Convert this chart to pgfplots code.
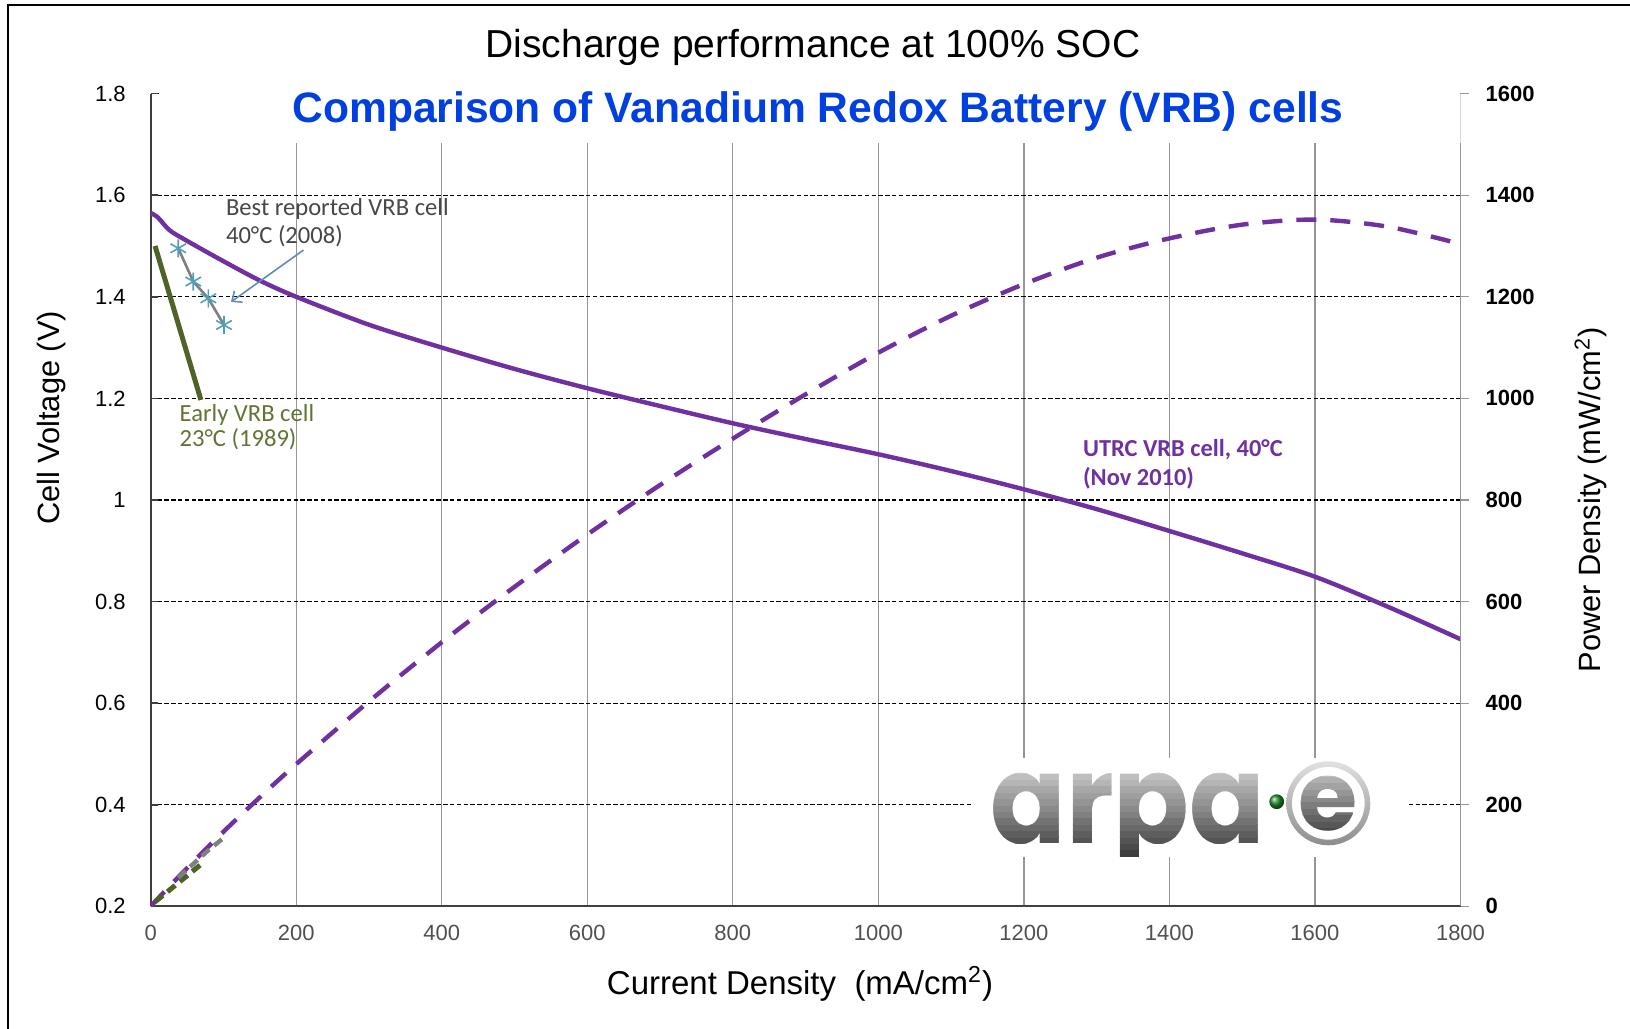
\documentclass[border=0pt]{standalone}
\usepackage{fontspec}
\setmainfont{Liberation Sans}
\newfontfamily\calibri{Carlito}
\newfontfamily\poppins{Poppins}
\usepackage{pgfplots}
\pgfplotsset{compat=1.18}
\usetikzlibrary{arrows.meta}

\definecolor{vpurple}{RGB}{112,48,160}
\definecolor{olive}{RGB}{79,98,40}
\definecolor{olivetxt}{RGB}{95,117,50}
\definecolor{teal2}{RGB}{80,160,185}
\definecolor{arrowblue}{RGB}{95,140,190}
\definecolor{titleblue}{RGB}{0,64,224}
\definecolor{gridgray}{RGB}{150,150,150}
\definecolor{ticktxt}{RGB}{80,80,80}
\definecolor{logogreen}{RGB}{30,140,40}

\begin{document}
\begin{tikzpicture}
% ---------- left axis: cell voltage ----------
\begin{axis}[
  at={(0pt,0pt)}, anchor=south west, scale only axis,
  width=654.9pt, height=406.4pt,
  xmin=0, xmax=1800, ymin=0.2, ymax=1.8,
  axis x line*=bottom, axis y line*=left,
  axis line style={-, draw=black!75, line width=0.9pt},
  xtick={0,200,400,600,800,1000,1200,1400,1600,1800},
  ytick={0.2,0.4,0.6,0.8,1,1.2,1.4,1.6,1.8},
  xmajorgrids, ymajorgrids,
  x grid style={gridgray, line width=0.6pt},
  y grid style={black, line width=0.6pt, dash pattern=on 2.2pt off 1.2pt},
  xtick style={draw=none},
  ytick style={draw=black!75, line width=0.8pt},
  tick align=inside, major tick length=3.5pt,
  /pgf/number format/assume math mode=true,
  /pgf/number format/1000 sep={},
  yticklabel style={font=\fontsize{11}{13}\selectfont, text=black},
  xticklabel style={font=\fontsize{11}{13}\selectfont, text=ticktxt},
  yticklabel shift=9pt,
  xticklabel shift=6pt,
]
% white areas (title band and logo)
\fill[white] (axis cs:12,1.703) rectangle (axis cs:1830,1.83);
\fill[white] (axis cs:1128.6,0.298) rectangle (axis cs:1728.6,0.4926);

% UTRC VRB cell voltage
\addplot[vpurple, line width=2.2pt, no marks, smooth] coordinates {
(0,1.565)(10,1.556)(26,1.531)(50,1.51)(100,1.470)(150,1.432)(200,1.400)
(300,1.345)(400,1.300)(500,1.258)(600,1.220)(700,1.185)(800,1.151)
(900,1.120)(1000,1.090)(1100,1.057)(1200,1.021)(1300,0.982)(1400,0.939)
(1500,0.895)(1600,0.849)(1700,0.790)(1800,0.726)};

% Early VRB cell voltage
\addplot[olive, line width=2.5pt, no marks] coordinates {(6,1.50)(69,1.197)};

% Best reported VRB cell voltage
\addplot[gray, line width=1.3pt, mark=asterisk, mark size=4.5pt,
  mark options={teal2, line width=0.8pt}] coordinates {
(37.9,1.4955)(58.5,1.430)(79.2,1.397)(100.7,1.3445)};

\draw[arrowblue, line width=0.8pt, -{Straight Barb[length=4pt,width=7pt]}]
  (axis cs:210,1.492) -- (axis cs:110.4,1.390);

\node[anchor=base west, font=\calibri\fontsize{12.3}{14}\selectfont, text=black!72, inner sep=0pt]
  at (axis cs:103,1.561) {Best reported VRB cell};
\node[anchor=base west, font=\calibri\fontsize{12.3}{14}\selectfont, text=black!72, inner sep=0pt]
  at (axis cs:103,1.505) {40°C (2008)};
\node[anchor=base west, font=\calibri\fontsize{12.3}{14}\selectfont, text=olivetxt, inner sep=0pt]
  at (axis cs:39.3,1.154) {Early VRB cell};
\node[anchor=base west, font=\calibri\fontsize{12.3}{14}\selectfont, text=olivetxt, inner sep=0pt]
  at (axis cs:39.3,1.105) {23°C (1989)};
\node[anchor=base west, font=\calibri\bfseries\fontsize{12.2}{14}\selectfont, text=vpurple, inner sep=0pt]
  at (axis cs:1280.8,1.085) {UTRC VRB cell, 40°C};
\node[anchor=base west, font=\calibri\bfseries\fontsize{12.2}{14}\selectfont, text=vpurple, inner sep=0pt]
  at (axis cs:1280.8,1.0295) {(Nov 2010)};
\end{axis}

% ---------- right axis: power density ----------
\begin{axis}[
  at={(0pt,0pt)}, anchor=south west, scale only axis,
  width=654.9pt, height=406.4pt,
  xmin=0, xmax=1800, ymin=0, ymax=1600,
  axis x line=none, axis y line*=right,
  y axis line style={draw=none},
  ytick={0,200,400,600,800,1000,1200,1400,1600},
  ytick style={gridgray, line width=0.6pt},
  tick align=outside, major tick length=4pt,
  /pgf/number format/assume math mode=true,
  /pgf/number format/1000 sep={},
  yticklabel style={font=\bfseries\fontsize{11}{13}\selectfont, text=black, anchor=west},
  yticklabel shift=5pt,
]
\addplot[vpurple, line width=2.2pt, no marks, smooth, dash pattern=on 10pt off 7pt] coordinates {
(0,0)(10,15.6)(26,39.8)(50,75.5)(100,147)(150,214.8)(200,280)(300,403.5)
(400,520)(500,629)(600,732)(700,829.5)(800,920.8)(900,1008)(1000,1090)
(1100,1162.7)(1200,1225)(1300,1277)(1400,1315)(1500,1342)
(1600,1352)(1700,1338)(1800,1304)};
\addplot[olive, line width=2.5pt, no marks, dash pattern=on 5pt off 3pt] coordinates {(6,9)(69,82.6)};
\addplot[gray, line width=2.2pt, no marks, dash pattern=on 5pt off 3pt] coordinates {
(37.9,56.7)(58.5,83.7)(79.2,110.6)(100.7,135.4)};
\end{axis}

% right spine
\draw[gridgray, line width=0.8pt] (654.9pt,0pt) -- (654.9pt,381.6pt);

% titles and axis labels
\node[font=\fontsize{19.5}{22}\selectfont] at (331.15pt,429.3pt) {Discharge performance at 100\% SOC};
\node[font=\bfseries\fontsize{21.3}{25}\selectfont, text=titleblue] at (333.65pt,397.6pt)
  {Comparison of Vanadium Redox Battery (VRB) cells};
\node[rotate=90, font=\fontsize{15.4}{18}\selectfont] at (-49.35pt,244.2pt) {Cell Voltage (V)};
\node[rotate=90, font=\fontsize{15.4}{18}\selectfont] at (719.9pt,203.2pt) {Power Density (mW/cm\textsuperscript{2})};
\node[font=\fontsize{16.5}{19}\selectfont] at (324.65pt,-38.8pt) {Current Density\ \ (mA/cm\textsuperscript{2})};

% logo: gray gradient imitated with horizontal bands
\foreach \i in {0,...,13} {
  \pgfmathsetmacro{\yb}{25+\i*3.2}
  \pgfmathtruncatemacro{\pc}{76-\i*4.2}
  \begin{scope}
    \clip (400pt,\yb pt) rectangle (580pt,\yb pt+3.3pt);
    \node[font=\poppins\bfseries\fontsize{62}{62}\selectfont, text=black!\pc, anchor=base, xscale=0.9, inner sep=0pt]
      at (488.6pt,31.2pt) {arpa};
  \end{scope}
}
\shade[ball color=logogreen] (563pt,52.35pt) circle (3.7pt);
\shade[top color=black!12, bottom color=black!45, even odd rule]
  (588.8pt,51.55pt) circle (21pt) (588.8pt,51.55pt) circle (18.2pt);
\foreach \i in {0,...,11} {
  \pgfmathsetmacro{\yb}{33+\i*3.2}
  \pgfmathtruncatemacro{\pc}{76-\i*5}
  \begin{scope}
    \clip (565pt,\yb pt) rectangle (615pt,\yb pt+3.3pt);
    \node[font=\poppins\bfseries\fontsize{48}{48}\selectfont, text=black!\pc, inner sep=0pt]
      at (588.8pt,51.55pt) {e};
  \end{scope}
}

% outer frame
\draw[black, line width=1.2pt] (-71.2pt,-61.3pt) -- (-71.2pt,450.6pt) -- (739.65pt,450.6pt);

\pgfresetboundingbox
\useasboundingbox (-75.35pt,-61.3pt) rectangle (739.65pt,453.2pt);
\end{tikzpicture}
\end{document}
